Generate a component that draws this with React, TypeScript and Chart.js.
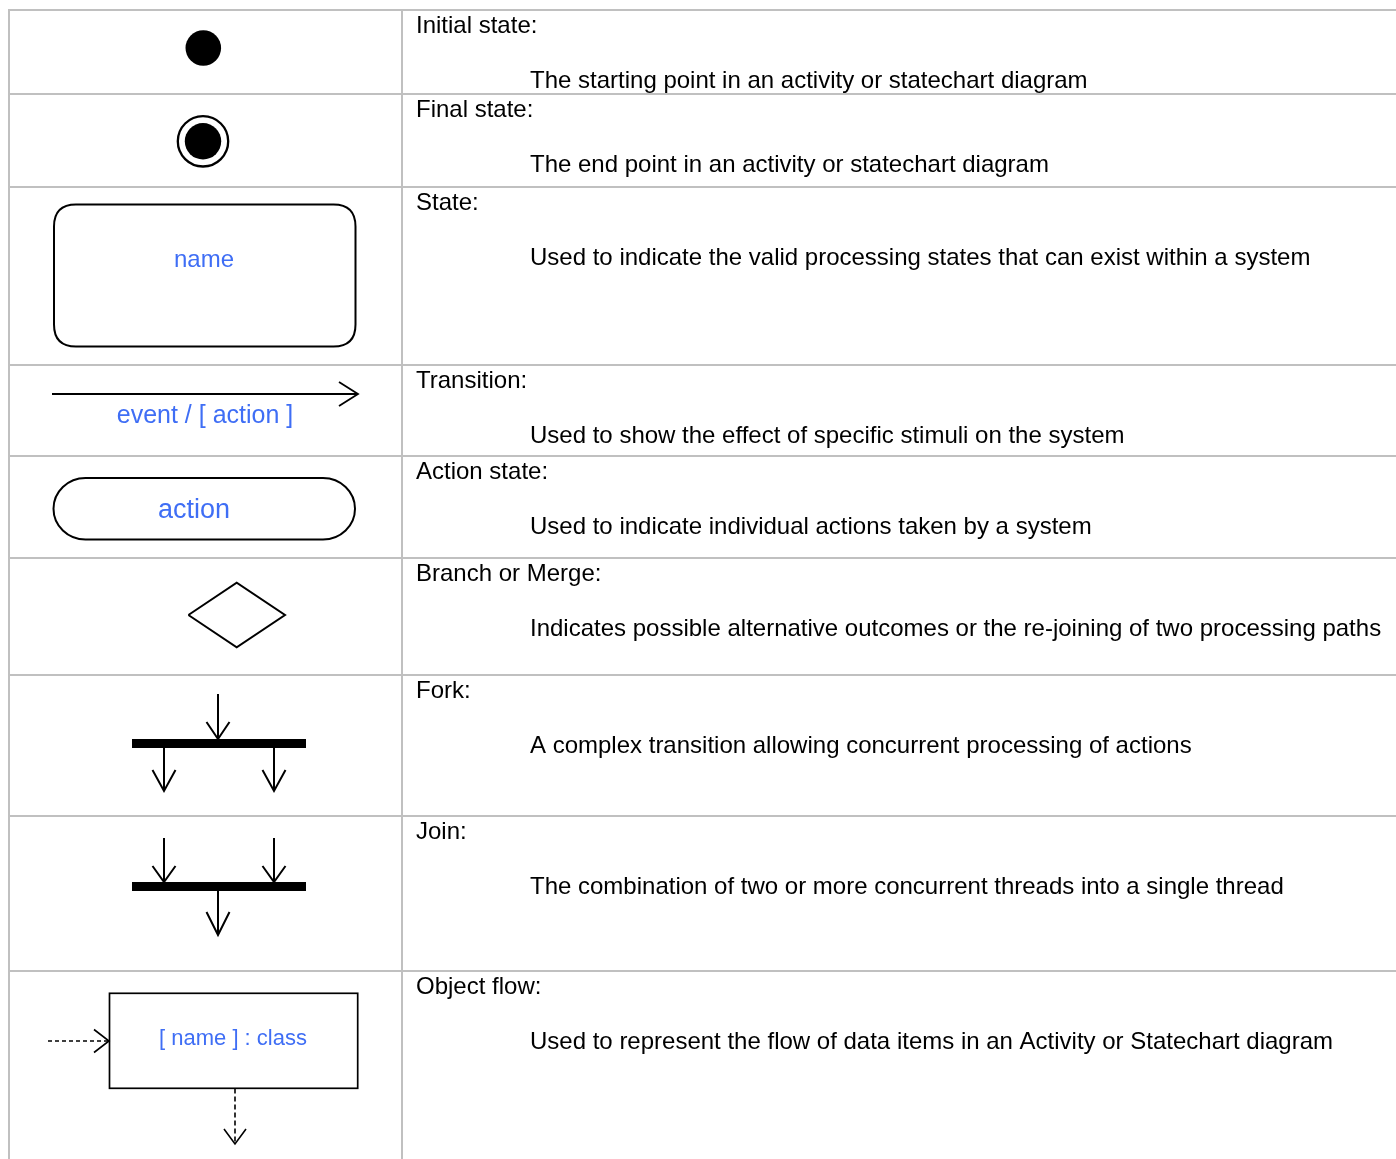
import React, { useEffect, useRef } from "react";
import { Chart, registerables } from "chart.js";

Chart.register(...registerables);

// ---- table content ----
const rowTitles = [
  "Initial state:",
  "Final state:",
  "State:",
  "Transition:",
  "Action state:",
  "Branch or Merge:",
  "Fork:",
  "Join:",
  "Object flow:",
];
const rowDescriptions = [
  "The starting point in an activity or statechart diagram",
  "The end point in an activity or statechart diagram",
  "Used to indicate the valid processing states that can exist within a system",
  "Used to show the effect of specific stimuli on the system",
  "Used to indicate individual actions taken by a system",
  "Indicates possible alternative outcomes or the re-joining of two processing paths",
  "A complex transition allowing concurrent processing of actions",
  "The combination of two or more concurrent threads into a single thread",
  "Used to represent the flow of data items in an Activity or Statechart diagram",
];
// row top edges (page units)
const rowTops = [10, 94, 187, 365, 456, 558, 675, 816, 971];
const symbolKinds = ["initial", "final", "state", "transition", "action", "branch", "fork", "join", "object"];
const stateLabel = "name";
const transitionLabel = "event / [ action ]";
const actionLabel = "action";
const objectLabel = "[ name ] : class";

const W = 1396;
const H = 1159;
const TABLE_LEFT = 9;
const COL_DIVIDER = 402;

const FONT = 'Arial, "Liberation Sans", Helvetica, sans-serif';
const BLUE = "#3f6ef5";
const GRID = "#c0c0c0";

const tablePlugin = {
  id: "umlTable",
  afterDraw(chart: any) {
    const ctx: CanvasRenderingContext2D = chart.ctx;
    const xs = chart.scales.x;
    const ys = chart.scales.y;
    const X = (v: number) => xs.getPixelForValue(v);
    const Y = (v: number) => ys.getPixelForValue(v);

    ctx.save();
    ctx.fillStyle = "#ffffff";
    ctx.fillRect(0, 0, chart.width, chart.height);

    // grid
    ctx.strokeStyle = GRID;
    ctx.lineWidth = 2;
    ctx.beginPath();
    rowTops.forEach((t) => {
      ctx.moveTo(X(TABLE_LEFT - 1), Y(t));
      ctx.lineTo(X(W), Y(t));
    });
    ctx.moveTo(X(TABLE_LEFT), Y(rowTops[0]));
    ctx.lineTo(X(TABLE_LEFT), Y(H));
    ctx.moveTo(X(COL_DIVIDER), Y(rowTops[0]));
    ctx.lineTo(X(COL_DIVIDER), Y(H));
    ctx.stroke();

    // texts
    ctx.fillStyle = "#000000";
    ctx.font = `24px ${FONT}`;
    ctx.textAlign = "left";
    ctx.textBaseline = "alphabetic";
    rowTitles.forEach((t, i) => {
      ctx.fillText(t, X(416), Y(rowTops[i] + 23));
      ctx.fillText(rowDescriptions[i], X(530), Y(rowTops[i] + 78));
    });

    const line = (pts: number[][], dash: number[] = []) => {
      ctx.setLineDash(dash);
      ctx.beginPath();
      pts.forEach((p, k) => (k === 0 ? ctx.moveTo(X(p[0]), Y(p[1])) : ctx.lineTo(X(p[0]), Y(p[1]))));
      ctx.stroke();
      ctx.setLineDash([]);
    };
    const headDown = (x: number, tip: number, len: number, half: number) =>
      line([[x - half, tip - len], [x, tip], [x + half, tip - len]]);
    const headRight = (tip: number, y: number, len: number, half: number) =>
      line([[tip - len, y - half], [tip, y], [tip - len, y + half]]);
    const label = (txt: string, size: number, cx: number, base: number) => {
      ctx.fillStyle = BLUE;
      ctx.font = `${size}px ${FONT}`;
      ctx.textAlign = "center";
      ctx.fillText(txt, X(cx), Y(base));
    };

    ctx.lineCap = "butt";
    ctx.lineJoin = "miter";

    symbolKinds.forEach((kind, i) => {
      const r = rowTops[i];
      ctx.strokeStyle = "#000000";
      ctx.fillStyle = "#000000";
      ctx.lineWidth = 2;
      if (kind === "initial") {
        ctx.beginPath();
        ctx.arc(X(203.3), Y(r + 38), 17.8, 0, Math.PI * 2);
        ctx.fill();
      } else if (kind === "final") {
        ctx.beginPath();
        ctx.arc(X(203), Y(r + 47.3), 18.2, 0, Math.PI * 2);
        ctx.fill();
        ctx.lineWidth = 2.3;
        ctx.beginPath();
        ctx.arc(X(203), Y(r + 47.3), 25.2, 0, Math.PI * 2);
        ctx.stroke();
      } else if (kind === "state") {
        const x0 = X(54), x1 = X(355.5), y0 = Y(r + 17.5), y1 = Y(r + 159.5), rad = 22;
        ctx.lineWidth = 2;
        ctx.beginPath();
        ctx.moveTo(x0 + rad, y0);
        ctx.lineTo(x1 - rad, y0);
        ctx.quadraticCurveTo(x1, y0, x1, y0 + rad);
        ctx.lineTo(x1, y1 - rad);
        ctx.quadraticCurveTo(x1, y1, x1 - rad, y1);
        ctx.lineTo(x0 + rad, y1);
        ctx.quadraticCurveTo(x0, y1, x0, y1 - rad);
        ctx.lineTo(x0, y0 + rad);
        ctx.quadraticCurveTo(x0, y0, x0 + rad, y0);
        ctx.closePath();
        ctx.stroke();
        label(stateLabel, 24, 204, r + 80);
      } else if (kind === "transition") {
        ctx.lineWidth = 1.8;
        line([[52, r + 29], [357.5, r + 29]]);
        headRight(358, r + 29, 19, 12);
        label(transitionLabel, 25, 205, r + 58);
      } else if (kind === "action") {
        const x0 = X(53.5), x1 = X(355), y0 = Y(r + 22), y1 = Y(r + 83.5);
        const rx = 32, ry = (y1 - y0) / 2, my = (y0 + y1) / 2;
        ctx.lineWidth = 2;
        ctx.beginPath();
        ctx.moveTo(x0 + rx, y0);
        ctx.lineTo(x1 - rx, y0);
        ctx.ellipse(x1 - rx, my, rx, ry, 0, -Math.PI / 2, Math.PI / 2);
        ctx.lineTo(x0 + rx, y1);
        ctx.ellipse(x0 + rx, my, rx, ry, 0, Math.PI / 2, (Math.PI * 3) / 2);
        ctx.closePath();
        ctx.stroke();
        label(actionLabel, 27, 194, r + 62);
      } else if (kind === "branch") {
        const cx = 236.7, cy = r + 57;
        ctx.lineWidth = 2;
        line([[cx - 48.3, cy], [cx, cy - 32.3], [cx + 48.3, cy], [cx, cy + 32.3], [cx - 48.3, cy]]);
      } else if (kind === "fork") {
        ctx.fillRect(X(132), Y(r + 64), X(306) - X(132), Y(r + 73) - Y(r + 64));
        ctx.lineWidth = 2;
        line([[218, r + 19], [218, r + 64]]);
        headDown(218, r + 64, 17, 11.5);
        line([[164, r + 73], [164, r + 116]]);
        headDown(164, r + 116, 21, 11.5);
        line([[274, r + 73], [274, r + 116]]);
        headDown(274, r + 116, 21, 11.5);
      } else if (kind === "join") {
        ctx.fillRect(X(132), Y(r + 66), X(306) - X(132), Y(r + 75) - Y(r + 66));
        ctx.lineWidth = 2;
        line([[164, r + 22], [164, r + 66]]);
        headDown(164, r + 66, 16, 11.5);
        line([[274, r + 22], [274, r + 66]]);
        headDown(274, r + 66, 16, 11.5);
        line([[218, r + 75], [218, r + 119]]);
        headDown(218, r + 119, 23, 11.5);
      } else if (kind === "object") {
        ctx.lineWidth = 1.7;
        ctx.strokeRect(X(109.5), Y(r + 22.3), X(357.7) - X(109.5), Y(r + 117.3) - Y(r + 22.3));
        ctx.lineWidth = 1.6;
        line([[48, r + 70], [108, r + 70]], [4, 3]);
        headRight(109, r + 70, 15, 11.5);
        line([[235, r + 117.5], [235, r + 172]], [5, 3]);
        headDown(235, r + 173, 15, 11);
        label(objectLabel, 22, 233, r + 74);
      }
    });

    ctx.restore();
  },
};

export default function App() {
  const ref = useRef<HTMLCanvasElement | null>(null);
  useEffect(() => {
    if (!ref.current) return;
    const chart = new Chart(ref.current, {
      type: "scatter",
      data: {
        datasets: [
          {
            label: "rows",
            data: rowTops.map((t) => ({ x: COL_DIVIDER, y: t })),
            pointRadius: 0,
            showLine: false,
          },
        ],
      },
      options: {
        animation: false,
        responsive: false,
        maintainAspectRatio: false,
        devicePixelRatio: 1,
        events: [],
        layout: { padding: 0 },
        plugins: {
          legend: { display: false },
          tooltip: { enabled: false },
          title: { display: false },
        },
        scales: {
          x: { type: "linear", min: 0, max: W, display: false },
          y: { type: "linear", min: 0, max: H, reverse: true, display: false },
        },
      },
      plugins: [tablePlugin],
    });
    return () => chart.destroy();
  }, []);

  return (
    <div style={{ position: "absolute", left: 0, top: 0, width: W, height: H, background: "#fff" }}>
      <canvas ref={ref} width={W} height={H} style={{ display: "block", width: W, height: H }} />
    </div>
  );
}
